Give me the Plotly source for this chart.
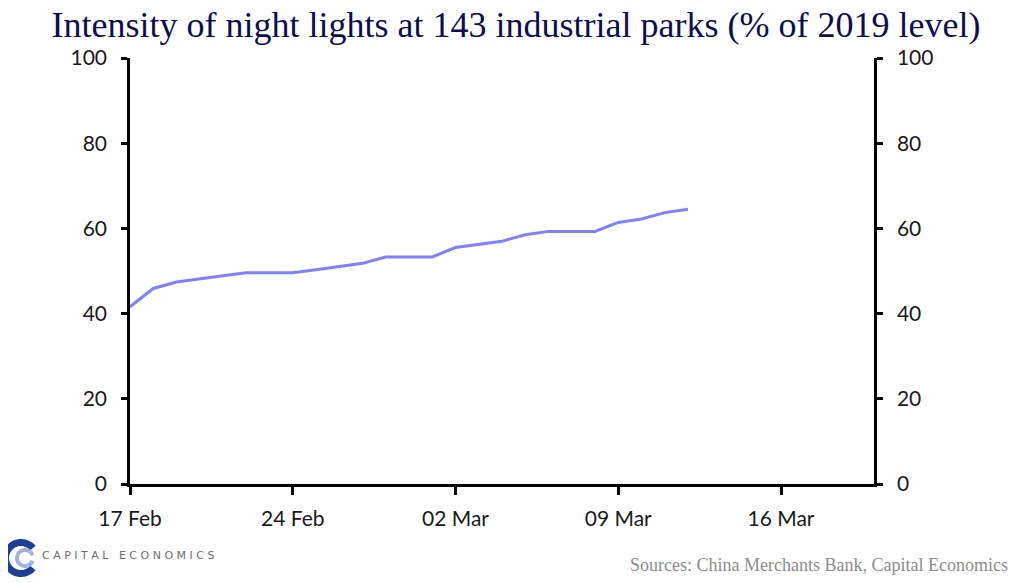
import math
import plotly.graph_objects as go

# night lights intensity, % of 2019 level
dates = ['2020-02-17', '2020-02-18', '2020-02-19', '2020-02-20', '2020-02-21', '2020-02-22',
         '2020-02-23', '2020-02-24', '2020-02-25', '2020-02-26', '2020-02-27', '2020-02-28',
         '2020-02-29', '2020-03-01', '2020-03-02', '2020-03-03', '2020-03-04', '2020-03-05',
         '2020-03-06', '2020-03-07', '2020-03-08', '2020-03-09', '2020-03-10', '2020-03-11',
         '2020-03-12']
intensity = [41.6, 45.9, 47.4, 48.2, 48.9, 49.6, 49.6, 49.6, 50.3, 51.0, 51.8, 53.3,
             53.3, 53.3, 55.5, 56.2, 57.0, 58.5, 59.3, 59.3, 59.3, 61.4, 62.2, 63.7, 64.5]

title_text = 'Intensity of night lights at 143 industrial parks (% of 2019 level)'
source_text = 'Sources: China Merchants Bank, Capital Economics'

serif = 'Palatino Linotype, Book Antiqua, Palatino, Liberation Serif, serif'
tickfont = dict(family='Lato, Noto Sans, sans-serif', size=21, color='#1a1a1a')

fig = go.Figure()
fig.add_trace(go.Scatter(x=dates, y=intensity, mode='lines',
                         line=dict(color='#8080ff', width=3), showlegend=False))
# copy on the right axis so it gets drawn
fig.add_trace(go.Scatter(x=dates, y=intensity, mode='lines', yaxis='y2',
                         line=dict(color='rgba(0,0,0,0)', width=0), showlegend=False,
                         hoverinfo='skip'))

yax = dict(range=[0, 100], tick0=0, dtick=20, showgrid=False, zeroline=False,
           showline=True, linecolor='black', linewidth=2.5,
           ticks='outside', ticklen=6, tickwidth=2.5, tickcolor='black',
           tickfont=tickfont, ticklabelstandoff=10, fixedrange=True)

# page body has an 8px margin, so the figure is a bit smaller than the window
fig.update_layout(
    width=1016, height=575,
    paper_bgcolor='white', plot_bgcolor='white',
    margin=dict(l=122, r=150, t=50, b=99),
    title=dict(text=title_text, x=0.5, xanchor='center', y=0.993, yanchor='top',
               font=dict(family=serif, size=36, color='#0d0d4f')),
    xaxis=dict(type='date', range=['2020-02-17', '2020-03-20'],
               tick0='2020-02-17', dtick=7 * 86400000, tickformat='%d %b',
               showgrid=False, zeroline=False, showline=True, linecolor='black', linewidth=2.5,
               ticks='outside', ticklen=8, tickwidth=2.5, tickcolor='black',
               tickfont=tickfont, ticklabelstandoff=6),
    yaxis=dict(side='left', **yax),
    yaxis2=dict(side='right', overlaying='y', **yax),
)

fig.add_annotation(text=source_text, xref='paper', yref='paper', x=1.183, y=-0.19,
                   xanchor='right', yanchor='middle', showarrow=False,
                   font=dict(family=serif, size=18, color='#8c8c8c'))
fig.add_annotation(text='C A P I T A L   E C O N O M I C S', xref='paper', yref='paper',
                   x=-0.121, y=-0.167, xanchor='left', yanchor='middle', showarrow=False,
                   font=dict(family='DejaVu Sans', size=11, color='#6e6e6e'))

# logo mark: thick "C" ring plus a light inner "e"
def ring(cx, cy, r_out, r_in, a0, a1, n=40):
    pts = []
    for i in range(n + 1):
        a = math.radians(a0 + (a1 - a0) * i / n)
        pts.append((cx + r_out * math.cos(a), cy + r_out * math.sin(a)))
    for i in range(n + 1):
        a = math.radians(a1 - (a1 - a0) * i / n)
        pts.append((cx + r_in * math.cos(a), cy + r_in * math.sin(a)))
    return 'M ' + ' L '.join(f'{x:.1f},{y:.1f}' for x, y in pts) + ' Z'

fig.add_shape(type='path', xref='paper', yref='paper', xsizemode='pixel', ysizemode='pixel',
              xanchor=0, yanchor=0, path=ring(-109, -74, 19, 12, 40, 320),
              fillcolor='#1f3f95', line=dict(width=0))
fig.add_shape(type='path', xref='paper', yref='paper', xsizemode='pixel', ysizemode='pixel',
              xanchor=0, yanchor=0, path=ring(-105, -74, 10, 6, 20, 340),
              fillcolor='#9fb3e0', line=dict(width=0))

fig.write_html('out.html')
